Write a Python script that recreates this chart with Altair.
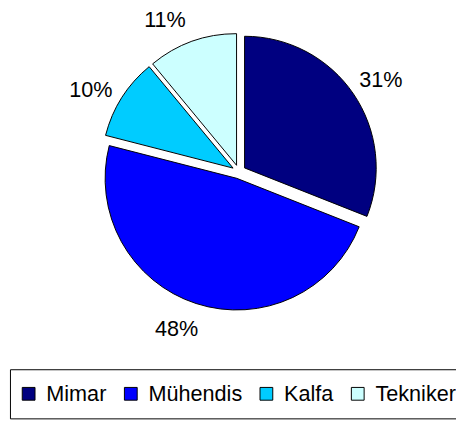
import math
import altair as alt
import pandas as pd

categories = ["Mimar", "Mühendis", "Kalfa", "Tekniker"]
values = [31, 48, 10, 11]
labels = ["31%", "48%", "10%", "11%"]
colors = ["#000080", "#0000FF", "#00CCFF", "#CCFFFF"]

# style: small angular nudges (degrees) of each percentage label, as placed in the original
label_nudge_deg = [1.4, 3.8, -3.7, -6.4]

df = pd.DataFrame({
    "order": list(range(len(categories))),
    "category": categories,
    "value": values,
    "label": labels,
})

total = sum(values)
explode = 7
FONT = "Liberation Sans"
CX, CY = 235, 163   # pie centre inside the plot area
R = 134

theta_scale = alt.Scale(domain=[0, total], range=[0, 2 * math.pi])
color_enc = alt.Color(
    "category:N",
    sort=categories,
    scale=alt.Scale(domain=categories, range=colors),
    legend=alt.Legend(
        orient="none",
        legendX=2,
        legendY=364,
        direction="horizontal",
        title=None,
        strokeColor="black",
        fillColor="white",
        padding=14,
        symbolType="square",
        symbolSize=169,
        symbolStrokeColor="black",
        symbolStrokeWidth=1,
        symbolOpacity=1,
        symbolOffset=-6,
        labelFontSize=22,
        labelFont=FONT,
        labelColor="black",
        labelOffset=7,
        columnPadding=15,
    ),
)

base = (
    alt.Chart(df)
    .transform_window(end="sum(value)", sort=[alt.SortField("order")], frame=[None, 0])
    .transform_calculate(start="datum.end - datum.value", mid="datum.end - datum.value / 2")
)

layers = []
cum = 0
for i, cat in enumerate(categories):
    cum += values[i]
    mid_angle = (cum - values[i] / 2) / total * 2 * math.pi
    dx = explode * math.sin(mid_angle)
    dy = -explode * math.cos(mid_angle)
    b = base.transform_filter(alt.datum.category == cat)
    arc = b.mark_arc(
        radius=R, stroke="black", strokeWidth=1, xOffset=dx, yOffset=dy, opacity=1
    ).encode(
        x=alt.value(CX),
        y=alt.value(CY),
        theta=alt.Theta("start:Q", scale=theta_scale),
        theta2="end:Q",
        color=color_enc,
    )
    txt = b.mark_text(
        radius=165, fontSize=22, font=FONT, color="black", xOffset=dx, yOffset=dy,
        thetaOffset=math.radians(label_nudge_deg[i]),
    ).encode(
        x=alt.value(CX),
        y=alt.value(CY),
        theta=alt.Theta("mid:Q", scale=theta_scale),
        text="label:N",
    )
    layers += [arc, txt]

chart = (
    alt.layer(*layers)
    .properties(
        width=456,
        height=415,
        padding=0,
        autosize="none",
        background="white",
    )
    .configure_view(stroke=None)
)

chart.save("out.html", embed_options={"renderer": "svg", "actions": False})
